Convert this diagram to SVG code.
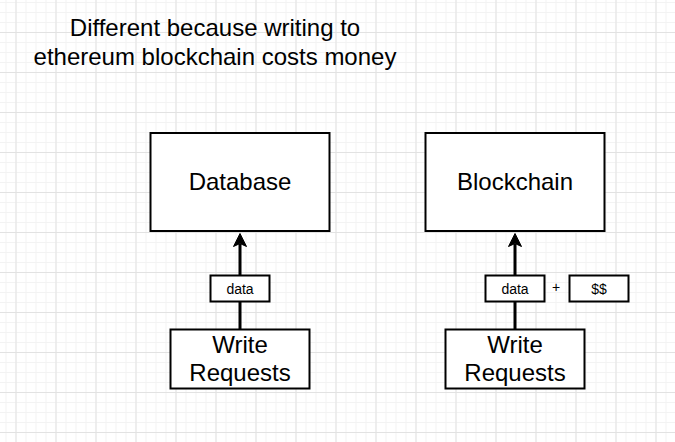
<svg xmlns="http://www.w3.org/2000/svg" width="675" height="442" viewBox="0 0 675 442">
  <defs>
    <pattern id="minor" x="5.5" y="2" width="10" height="10" patternUnits="userSpaceOnUse">
      <rect x="0" y="0" width="10" height="1" fill="#f3f3f3"/>
      <rect x="0" y="0" width="1" height="10" fill="#f3f3f3"/>
    </pattern>
    <pattern id="major" x="15.5" y="32" width="40" height="40" patternUnits="userSpaceOnUse">
      <rect x="0" y="0" width="40" height="1" fill="#e2e2e2"/>
      <rect x="0" y="0" width="1" height="40" fill="#e2e2e2"/>
    </pattern>
  </defs>
  <style>
    .box { fill: #ffffff; stroke: #000000; stroke-width: 2; }
    .lbl { font-family: "Liberation Sans", Arial, sans-serif; fill: #000000; text-anchor: middle; }
    .big { font-size: 24px; }
    .small { font-size: 14px; }
    .conn { stroke: #000000; stroke-width: 3; fill: none; }
    .head { fill: #000000; stroke: #000000; stroke-width: 1; stroke-linejoin: miter; }
  </style>
  <rect x="0" y="0" width="675" height="442" fill="#ffffff"/>
  <rect x="0" y="0" width="675" height="442" fill="url(#minor)"/>
  <rect x="0" y="0" width="675" height="442" fill="url(#major)"/>

  <g id="title">
    <text class="lbl big" x="215" y="36">Different because writing to</text>
    <text class="lbl big" x="215" y="64.5">ethereum blockchain costs money</text>
  </g>

  <g id="connectors">
    <line class="conn" x1="240" y1="329" x2="240" y2="244"/>
    <path class="head" d="M240,233.5 L246.5,246.5 L240,243.5 L233.5,246.5 Z"/>
    <line class="conn" x1="515" y1="329" x2="515" y2="244"/>
    <path class="head" d="M515,233.5 L521.5,246.5 L515,243.5 L508.5,246.5 Z"/>
  </g>

  <g id="database">
    <rect class="box" x="150.5" y="133" width="179" height="98"/>
    <text class="lbl big" x="240" y="190">Database</text>
  </g>

  <g id="blockchain">
    <rect class="box" x="425.5" y="133" width="179" height="98"/>
    <text class="lbl big" x="515" y="190">Blockchain</text>
  </g>

  <g id="data-left">
    <rect class="box" x="210.5" y="275.5" width="59" height="26"/>
    <text class="lbl small" x="240" y="293.5">data</text>
  </g>

  <g id="data-right">
    <rect class="box" x="485.5" y="275.5" width="59" height="26"/>
    <text class="lbl small" x="515" y="293.5">data</text>
  </g>

  <g id="plus">
    <text class="lbl small" x="556" y="292">+</text>
  </g>

  <g id="money">
    <rect class="box" x="569.5" y="275.5" width="59" height="26"/>
    <text class="lbl small" x="599" y="293.5">$$</text>
  </g>

  <g id="write-left">
    <rect class="box" x="170.5" y="329.5" width="139" height="59"/>
    <text class="lbl big" x="240" y="352.5">Write</text>
    <text class="lbl big" x="240" y="381">Requests</text>
  </g>

  <g id="write-right">
    <rect class="box" x="445.5" y="329.5" width="139" height="59"/>
    <text class="lbl big" x="515" y="352.5">Write</text>
    <text class="lbl big" x="515" y="381">Requests</text>
  </g>
</svg>
